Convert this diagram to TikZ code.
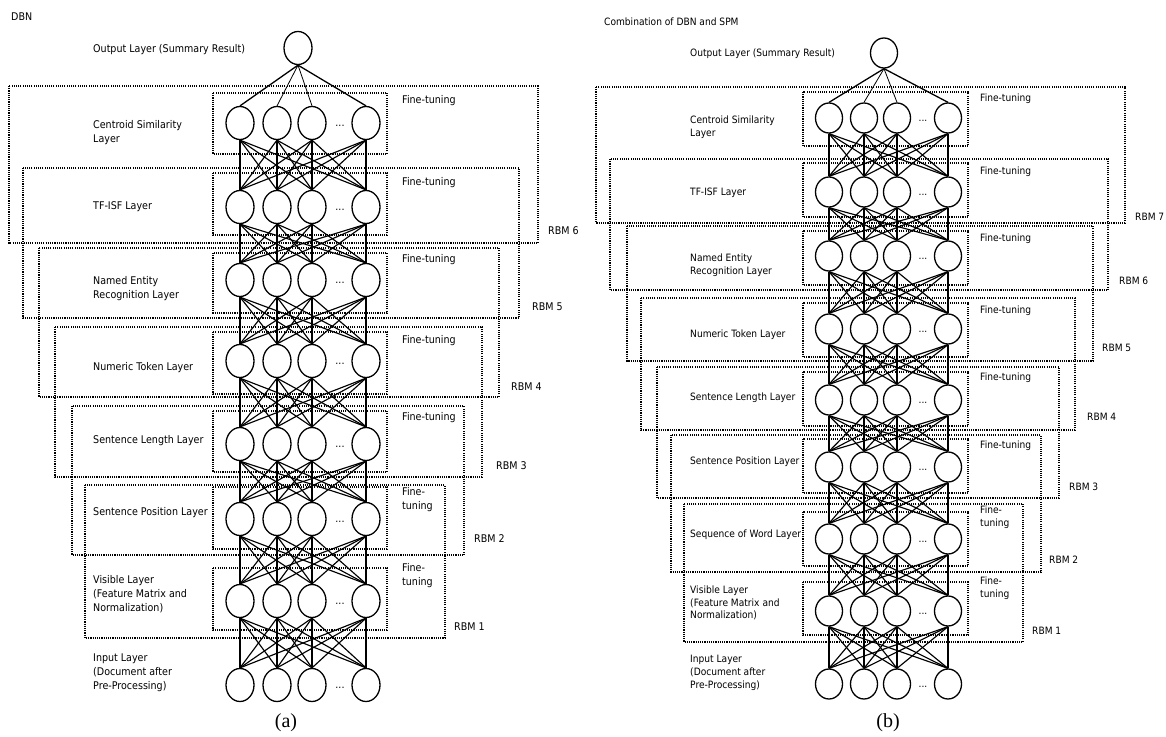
\documentclass[tikz,border=0pt]{standalone}
\usepackage{fontspec}
\setmainfont{DejaVu Sans}[FakeStretch=0.9]
\newfontfamily\capfont{Liberation Serif}
\usetikzlibrary{shapes.geometric}
\begin{document}
\begin{tikzpicture}[x=1pt,y=-1pt,
  neuronA/.style={ellipse,draw,line width=1.3pt,fill=white,minimum width=28pt,minimum height=33pt,inner sep=0pt},
  neuronB/.style={ellipse,draw,line width=1.3pt,fill=white,minimum width=27pt,minimum height=30pt,inner sep=0pt},
  groupbox/.style={draw,line width=1.1pt,dash pattern=on 1.1pt off 1.1pt},
  link/.style={line width=1.15pt},
  lblA/.style={anchor=west,align=left,inner sep=0pt,font=\fontsize{10.6}{14}\selectfont},
  lblB/.style={anchor=west,align=left,inner sep=0pt,font=\fontsize{10.1}{12.8}\selectfont},
  dotsA/.style={inner sep=0pt,font=\fontsize{10.6}{10}\selectfont},
  dotsB/.style={inner sep=0pt,font=\fontsize{10.1}{10}\selectfont},
  caption/.style={inner sep=0pt,font=\capfont\fontsize{20}{24}\selectfont}
]
\useasboundingbox (0,0) rectangle (1166,736);

% ---------------- (a) DBN ----------------
\node[lblA] (a-title) at (11,17) {DBN};

% RBM groupings
\foreach \l/\t/\r/\b in {9/86/538/243, 23/168/519/318, 39/248/499/397,
                         55/327/482/477, 72/406/464/555, 85/485/445/638}
  \draw[groupbox] (\l,\t) rectangle (\r,\b);
% fine-tuning frames
\foreach \t/\b in {93/154, 173/235, 253/313, 332/394, 411/472, 487/549, 568/630}
  \draw[groupbox] (213,\t) rectangle (387,\b);

% neurons
\node[neuronA] (a-0) at (298,48) {};
\foreach \y [count=\r] in {123,207,280,361,444,519,601,685} {
  \foreach \x [count=\c] in {240,277,312,366}
    \node[neuronA] (a-\r-\c) at (\x,\y) {};
  \node[dotsA] (a-\r-d) at (340,\y+3) {...};
}

% weights
\foreach \c/\w in {1/1.3,2/0.8,3/0.8,4/1.3}
  \draw[line width=\w pt] (a-0.south) -- (a-1-\c.north);
\foreach \r in {1,...,7} {
  \pgfmathtruncatemacro\s{\r+1}
  \foreach \c in {1,...,4}
    \foreach \d in {1,...,4}
      \draw[link] (a-\r-\c.south) -- (a-\s-\d.north);
}

% layer names
\foreach \y/\txt [count=\i] in {
  50/{Output Layer (Summary Result)},
  132.5/{Centroid Similarity\\Layer},
  207/{TF-ISF Layer},
  289/{Named Entity\\Recognition Layer},
  368/{Numeric Token Layer},
  441/{Sentence Length Layer},
  513/{Sentence Position Layer},
  594/{Visible Layer\\(Feature Matrix and\\Normalization)},
  673/{Input Layer\\(Document after\\Pre-Processing)}}
  \node[lblA] (a-lbl-\i) at (93,\y) {\txt};

\foreach \y/\txt [count=\i] in {101/{Fine-tuning}, 183/{Fine-tuning}, 260/{Fine-tuning},
  341/{Fine-tuning}, 418/{Fine-tuning}, 500/{Fine-\\tuning}, 576/{Fine-\\tuning}}
  \node[lblA] (a-ft-\i) at (402,\y) {\txt};

\foreach \x/\y/\k in {548/231/6, 532/307/5, 511/387/4, 496/466/3, 474/539/2, 454/627/1}
  \node[lblA] (a-rbm-\k) at (\x,\y) {RBM \k};

\node[caption] (a-cap) at (286,723) {(a)};

% ---------------- (b) DBN + SPM ----------------
\node[lblB] (b-title) at (604,22) {Combination of DBN and SPM};

\foreach \l/\t/\r/\b in {596/87/1125/223, 610/159/1108/290, 627/226/1093/361,
                         641/298/1075/430, 657/367/1059/498, 671/435/1041/572,
                         684/504/1023/642}
  \draw[groupbox] (\l,\t) rectangle (\r,\b);
\foreach \t/\b in {92/146, 163/217, 231/285, 303/357, 372/426, 439/493, 512/566, 582/635}
  \draw[groupbox] (803,\t) rectangle (968,\b);

\node[neuronB] (b-0) at (884,53) {};
\foreach \y [count=\r] in {118,192,256,329,400,467,539,611,684} {
  \foreach \x [count=\c] in {829,864,897,948}
    \node[neuronB] (b-\r-\c) at (\x,\y) {};
  \node[dotsB] (b-\r-d) at (923,\y+3) {...};
}

\foreach \c/\w in {1/1.3,2/0.8,3/0.8,4/1.3}
  \draw[line width=\w pt] (b-0.south) -- (b-1-\c.north);
\foreach \r in {1,...,8} {
  \pgfmathtruncatemacro\s{\r+1}
  \foreach \c in {1,...,4}
    \foreach \d in {1,...,4}
      \draw[link] (b-\r-\c.south) -- (b-\s-\d.north);
}

\foreach \y/\txt [count=\i] in {
  54/{Output Layer (Summary Result)},
  127/{Centroid Similarity\\Layer},
  193/{TF-ISF Layer},
  265/{Named Entity\\Recognition Layer},
  335/{Numeric Token Layer},
  398/{Sentence Length Layer},
  462/{Sentence Position Layer},
  535/{Sequence of Word Layer},
  603/{Visible Layer\\(Feature Matrix and\\Normalization)},
  673/{Input Layer\\(Document after\\Pre-Processing)}}
  \node[lblB] (b-lbl-\i) at (690,\y) {\txt};

\foreach \y/\txt [count=\i] in {99/{Fine-tuning}, 172/{Fine-tuning}, 239/{Fine-tuning},
  311/{Fine-tuning}, 378/{Fine-tuning}, 446/{Fine-tuning}, 517/{Fine-\\tuning},
  588/{Fine-\\tuning}}
  \node[lblB] (b-ft-\i) at (980,\y) {\txt};

\foreach \x/\y/\k in {1135/217/7, 1119/281/6, 1102/348/5, 1087/417/4, 1069/487/3,
                     1049/560/2, 1032/631/1}
  \node[lblB] (b-rbm-\k) at (\x,\y) {RBM \k};

\node[caption] (b-cap) at (888,723) {(b)};
\end{tikzpicture}
\end{document}
